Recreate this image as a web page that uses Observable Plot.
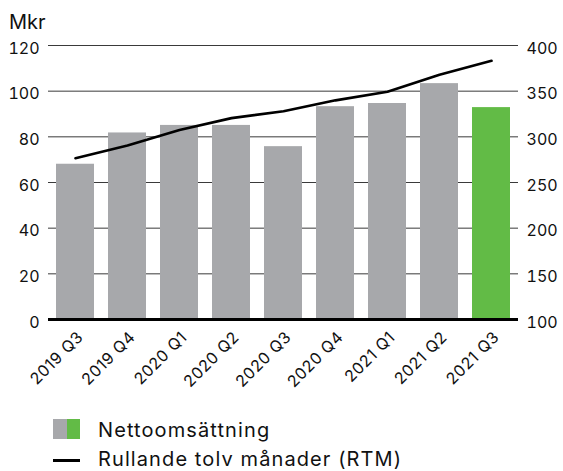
<!DOCTYPE html>
<html><head><meta charset="utf-8">
<script src="https://cdn.jsdelivr.net/npm/d3@7"></script>
<script src="https://cdn.jsdelivr.net/npm/@observablehq/plot@0.6"></script>
<style>
body{margin:0;background:#fff;font-family:Inter,sans-serif;color:#111;}
#wrap{position:relative;width:563px;height:471px;overflow:hidden;}
#title{position:absolute;left:9px;top:12px;font-size:20px;line-height:20px;}
.leg{position:absolute;left:98px;font-size:20px;line-height:20px;letter-spacing:1.1px;white-space:nowrap;}
.sw{position:absolute;left:53px;top:419px;width:27px;height:20px;display:flex;}
.ln{position:absolute;left:53px;top:458.5px;width:27px;height:3px;background:#000;}
#chart svg{position:absolute;left:0;top:0;}
g[aria-label="x-axis tick label"] text{letter-spacing:0.6px;}
</style></head>
<body><div id="wrap">
<div id="chart"></div>
<div id="title">Mkr</div>
<div class="sw"><div style="flex:1;background:#a7a8ab"></div><div style="flex:1;background:#62bb46"></div></div>
<div class="leg" style="top:419.5px">Nettoomsättning</div>
<div class="ln"></div>
<div class="leg" style="top:448.5px">Rullande tolv månader (RTM)</div>
</div>
<script>
const quarters = ["2019 Q3","2019 Q4","2020 Q1","2020 Q2","2020 Q3","2020 Q4","2021 Q1","2021 Q2","2021 Q3"];
const netSales = [68, 81.7, 85, 85, 75.7, 93.2, 94.6, 103.3, 92.8];
const rtm = [276.6, 290.5, 307.5, 320.5, 328, 340, 349.4, 368, 383.3];
const leftTicks = [0,20,40,60,80,100,120];
const rightTicks = [100,150,200,250,300,350,400];

const toLeft = v => (v - 100) * 120 / 300;
const bars = quarters.map((q,i) => ({q, v: netSales[i], cur: i === quarters.length-1}));
const line = quarters.map((q,i) => ({q, v: toLeft(rtm[i])}));

const plot = Plot.plot({
  width: 563, height: 400,
  marginLeft: 48, marginRight: 45, marginTop: 45, marginBottom: 81,
  style: {fontFamily: "Inter, sans-serif", fontSize: "16px", color: "#111"},
  x: {domain: quarters, paddingInner: 0.275, paddingOuter: 0.122, label: null},
  y: {domain: [0,120], label: null},
  marks: [
    Plot.ruleY(leftTicks.slice(1), {stroke: "#3a3a3a", strokeWidth: 1}),
    Plot.barY(bars, {x: "q", y: "v", fill: d => d.cur ? "#62bb46" : "#a7a8ab"}),
    Plot.ruleY([0], {stroke: "#000", strokeWidth: 3}),
    Plot.line(line, {x: "q", y: "v", stroke: "#000", strokeWidth: 2.7}),
    Plot.axisY(leftTicks, {anchor: "left", tickSize: 0, tickPadding: 9, dy: 3, label: null, fontSize: 16}),
    Plot.axisY(rightTicks.map(toLeft), {anchor: "right", tickSize: 0, tickPadding: 8, dy: 3, label: null, fontSize: 16, tickFormat: d => String(Math.round(d*300/120+100))}),
    Plot.axisX({tickRotate: -45, tickSize: 0, tickPadding: 15, dx: 5, label: null, fontSize: 16})
  ]
});
document.getElementById("chart").appendChild(plot);
</script>
</body></html>
